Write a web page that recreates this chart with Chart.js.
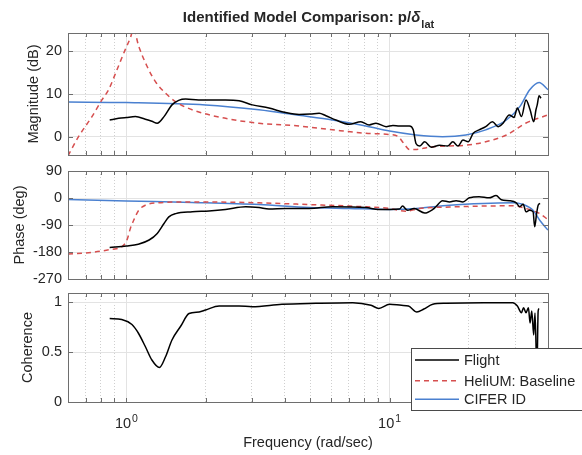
<!DOCTYPE html>
<html>
<head>
<meta charset="utf-8">
<script src="https://cdn.jsdelivr.net/npm/chart.js@4.4.0/dist/chart.umd.min.js"></script>
<style>
  body { margin: 0; background: #fff; }
  #wrap { position: relative; width: 582px; height: 455px; overflow: hidden; }
  canvas { position: absolute; left: 0; }
</style>
</head>
<body>
<div id="wrap">
  <canvas id="magChart" width="582" height="162" style="top:0px"></canvas>
  <canvas id="phaseChart" width="582" height="124" style="top:162px"></canvas>
  <canvas id="cohChart" width="582" height="169" style="top:286px"></canvas>
</div>
<script>
// axes / ticks
const freqMin = 0.6, freqMax = 40;
const freqTicks = [0.6, 0.7, 0.8, 0.9, 1, 2, 3, 4, 5, 6, 7, 8, 9, 10, 20, 30, 40];
const decadeTicks = [1, 10];
const decadeExps = ['0', '1'];
const magTicks = [0, 10, 20];
const phaseTicks = [-270, -180, -90, 0, 90];
const cohTicks = [0, 0.5, 1];

const titleMain = 'Identified Model Comparison: p/';
const titleSymbol = 'δ';
const titleSub = 'lat';
const seriesNames = ['Flight', 'HeliUM: Baseline', 'CIFER ID'];

// Flight data
const flightMagFreq = [0.864, 0.935, 1.0, 1.082, 1.18, 1.25, 1.31, 1.39, 1.49, 1.58, 1.68, 1.88, 2.1, 2.38, 2.68, 3.01, 3.48, 4.03, 4.53, 5.0, 5.4, 5.73, 6.25, 7.03, 7.78, 8.37, 8.88, 9.7, 10.3, 10.9, 11.9, 12.3, 12.6, 13.0, 13.6, 14.4, 15.5, 16.6, 17.4, 18.2, 19.0, 19.9, 20.8, 21.9, 23.2, 24.6, 25.9, 27.0, 28.5, 29.7, 30.6, 31.7, 33.0, 34.2, 35.3, 36.0, 36.4, 37.0, 37.6];
const flightMag = [3.9, 4.3, 4.5, 4.7, 4.1, 3.6, 3.15, 4.7, 7.45, 8.5, 8.8, 8.6, 8.6, 8.6, 8.4, 7.45, 6.7, 5.65, 5.2, 5.3, 5.5, 4.9, 3.9, 2.9, 3.5, 2.75, 3.15, 2.35, 2.6, 2.5, 2.5, 1.6, -1.6, -2.2, -1.2, -2.5, -2.0, -2.2, -1.2, -2.2, -0.8, -1.2, 0.8, 1.6, 2.35, 3.5, 2.35, 3.15, 5.1, 4.5, 6.7, 4.7, 8.6, 6.3, 3.5, 6.3, 7.45, 9.6, 9.0];

const flightPhaseFreq = [0.864, 1, 1.11, 1.22, 1.31, 1.39, 1.45, 1.54, 1.78, 2.06, 2.38, 2.84, 3.19, 3.48, 4.03, 4.95, 6.07, 8.13, 9.1, 10, 10.9, 11.2, 11.7, 12.4, 13.6, 14.6, 15.0, 15.9, 16.9, 17.9, 19.0, 20.1, 21.9, 23.9, 25.4, 26.6, 28.5, 30.3, 31.2, 32.2, 33.0, 34.0, 35.1, 35.6, 36.2, 36.7, 37.3];
const flightPhase = [-165, -160, -154, -140, -118, -85, -63, -52, -46, -43, -38, -29, -32, -37, -35, -35, -29, -32, -38, -38, -37, -27, -41, -35, -50, -38, -29, -9, -13, -9, -13, 0.6, 4.5, 0.6, 8, -6, -9, -16, -29, -21, -46, -41, -46, -96, -52, -24, -18];

const flightCohFreq = [0.864, 0.96, 1.05, 1.11, 1.18, 1.25, 1.335, 1.41, 1.49, 1.61, 1.73, 1.89, 2.0, 2.25, 2.68, 3.0, 3.9, 5.25, 7.25, 8.5, 9.1, 10, 11.1, 11.8, 12.7, 13.5, 14.6, 16.4, 22.8, 29.4, 30.6, 31.7, 32.3, 33.0, 33.7, 34.2, 34.7, 35.3, 35.7, 36.3, 36.7, 37.0];
const flightCoh = [0.835, 0.825, 0.775, 0.69, 0.555, 0.42, 0.345, 0.455, 0.62, 0.76, 0.885, 0.9, 0.92, 0.96, 0.96, 0.953, 0.977, 0.987, 0.993, 0.967, 0.936, 0.977, 0.967, 0.96, 0.9, 0.93, 0.977, 0.987, 0.993, 0.993, 0.96, 0.893, 0.943, 0.893, 0.943, 0.79, 0.91, 0.67, 0.89, 0.3, 0.91, 0.935];

// HeliUM baseline model
const heliMagFreq = [0.6, 0.658, 0.74, 0.807, 0.856, 0.921, 0.99, 1.036, 1.064, 1.114, 1.198, 1.289, 1.408, 1.537, 1.778, 2.38, 3.19, 4.53, 6.07, 8.13, 10.0, 10.8, 11.3, 11.9, 12.5, 14.6, 19.5, 23.2, 27.8, 33.0, 40];
const heliMag = [-4.5, 0, 4.7, 8.6, 11, 15.7, 20.4, 23.2, 25.2, 21.2, 16.5, 12.9, 10.2, 8.2, 6.3, 4.3, 3.15, 2.5, 1.6, 0.8, 0.5, 0, -1.5, -3.0, -3.0, -2.35, -2.0, -1.2, 0.4, 3.2, 5.1];

const heliPhaseFreq = [0.6, 0.74, 0.88, 0.96, 1.005, 1.036, 1.066, 1.114, 1.18, 1.33, 1.78, 3.19, 4.95, 7.03, 10, 11.5, 13.0, 16.9, 22.6, 29.4, 33, 37.2, 40];
const heliPhase = [-187, -181, -171, -163, -140, -101, -74, -41, -24, -16, -13, -16, -22, -27, -35, -44, -35, -30, -27, -26, -35, -52, -72];

// CIFER identified model
const ciferMagFreq = [0.6, 1, 2, 3.19, 4.53, 6.07, 8.13, 10, 12.6, 15.9, 19.5, 23.2, 27.8, 31.3, 34.1, 37.0, 40];
const ciferMag = [8.1, 8.0, 7.45, 6.3, 5.0, 3.9, 2.5, 1.3, 0.4, 0, 0.4, 1.6, 3.9, 7.1, 11, 12.7, 11];

const ciferPhaseFreq = [0.6, 1, 1.78, 3.19, 4.95, 7.03, 10, 12.6, 16.9, 22.6, 29.4, 32, 35.1, 37.2, 40];
const ciferPhase = [-5, -10, -15, -22, -32, -35, -38, -35, -24, -18, -16, -21, -41, -74, -107];

// styles
const family = '"Liberation Sans", Arial, Helvetica, sans-serif';
const textColor = '#262626';
const boxColor = '#6e6e6e';
const majorGrid = '#e3e3e3';
const minorGrid = '#cfcfcf';
const flightColor = '#000000';
const heliColor = '#d64f4f';
const ciferColor = '#4a80d0';
const heliDash = [5, 4];

const pts = (xs, ys) => xs.map((x, i) => ({ x, y: ys[i] }));
const isDecade = c => c.tick && decadeTicks.includes(c.tick.value);

function lineSet(label, xs, ys, color, dash) {
  return {
    label,
    data: pts(xs, ys),
    borderColor: color,
    borderWidth: 1.5,
    borderDash: dash || [],
    pointRadius: 0,
    fill: false,
    cubicInterpolationMode: 'monotone'
  };
}

function xScale(bottomAxis) {
  return {
    type: 'logarithmic',
    min: freqMin,
    max: freqMax,
    afterBuildTicks: s => { s.ticks = freqTicks.map(v => ({ value: v, major: decadeTicks.includes(v) })); },
    afterFit: s => { s.height = bottomAxis ? 53 : 0; s.paddingLeft = 0; s.paddingRight = 0; },
    ticks: { display: false, autoSkip: false },
    grid: { drawTicks: false, lineWidth: 1, color: c => isDecade(c) ? majorGrid : minorGrid },
    border: { display: false, dash: c => isDecade(c) ? [] : [1, 2] },
    title: {
      display: bottomAxis,
      text: 'Frequency (rad/sec)',
      color: textColor,
      font: { family, size: 14.5 },
      padding: { top: 0, bottom: 3 }
    }
  };
}

function yScale(min, max, tickVals, label, labelPad) {
  return {
    min,
    max,
    afterBuildTicks: s => { s.ticks = tickVals.map(v => ({ value: v })); },
    afterFit: s => { s.width = 68; s.paddingTop = 0; s.paddingBottom = 0; },
    ticks: { color: textColor, font: { family, size: 14.5 }, padding: 6, callback: v => String(v) },
    grid: { drawTicks: false, lineWidth: 1, color: majorGrid },
    border: { display: false },
    title: {
      display: true,
      text: label,
      color: textColor,
      font: { family, size: 14.5 },
      padding: { top: labelPad, bottom: 0 }
    }
  };
}

// box round each panel, with inward ticks like the original
const boxPlugin = {
  id: 'box',
  afterDraw(chart) {
    const { ctx, chartArea: a, scales: { x, y } } = chart;
    ctx.save();
    ctx.strokeStyle = boxColor;
    ctx.lineWidth = 1;
    ctx.beginPath();
    freqTicks.forEach(v => {
      const px = Math.round(x.getPixelForValue(v)) + 0.5;
      ctx.moveTo(px, a.top); ctx.lineTo(px, a.top + 4);
      ctx.moveTo(px, a.bottom); ctx.lineTo(px, a.bottom - 4);
    });
    y.ticks.forEach(t => {
      const py = Math.round(y.getPixelForValue(t.value)) + 0.5;
      ctx.moveTo(a.left, py); ctx.lineTo(a.left + 5, py);
      ctx.moveTo(a.right, py); ctx.lineTo(a.right - 5, py);
    });
    ctx.stroke();
    ctx.strokeRect(Math.round(a.left) + 0.5, Math.round(a.top) + 0.5,
      Math.round(a.right - a.left), Math.round(a.bottom - a.top));
    ctx.restore();
  }
};

const titlePlugin = {
  id: 'bodeTitle',
  afterDraw(chart) {
    const { ctx, chartArea: a } = chart;
    const mainFont = 'bold 15px ' + family;
    const symFont = 'italic bold 15px ' + family;
    const subFont = 'bold 11px ' + family;
    ctx.save();
    ctx.fillStyle = textColor;
    ctx.textBaseline = 'alphabetic';
    ctx.font = mainFont; const w1 = ctx.measureText(titleMain).width;
    ctx.font = symFont; const w2 = ctx.measureText(titleSymbol).width;
    ctx.font = subFont; const w3 = ctx.measureText(titleSub).width;
    let x0 = (a.left + a.right) / 2 - (w1 + w2 + w3) / 2;
    ctx.font = mainFont; ctx.fillText(titleMain, x0, 22);
    ctx.font = symFont; ctx.fillText(titleSymbol, x0 + w1, 22);
    ctx.font = subFont; ctx.fillText(titleSub, x0 + w1 + w2 + 1, 28);
    ctx.restore();
  }
};

const freqLabelPlugin = {
  id: 'freqLabels',
  afterDraw(chart) {
    const { ctx, scales: { x } } = chart;
    ctx.save();
    ctx.fillStyle = textColor;
    ctx.textBaseline = 'alphabetic';
    decadeTicks.forEach((v, i) => {
      ctx.font = '14.5px ' + family;
      const wb = ctx.measureText('10').width;
      ctx.font = '10.5px ' + family;
      const we = ctx.measureText(decadeExps[i]).width;
      const x0 = x.getPixelForValue(v) - (wb + we + 1) / 2;
      ctx.font = '14.5px ' + family;
      ctx.fillText('10', x0, 142.3);
      ctx.font = '10.5px ' + family;
      ctx.fillText(decadeExps[i], x0 + wb + 1, 135.7);
    });
    ctx.restore();
  }
};

const legendPlugin = {
  id: 'boxLegend',
  afterDraw(chart) {
    const { ctx } = chart;
    const rows = [74, 94.7, 113.3];
    ctx.save();
    ctx.fillStyle = '#ffffff';
    ctx.fillRect(411, 62, 180, 63);
    ctx.strokeStyle = '#4a4a4a';
    ctx.lineWidth = 1;
    ctx.strokeRect(411.5, 62.5, 180, 62);
    chart.data.datasets.forEach((ds, i) => {
      ctx.beginPath();
      ctx.strokeStyle = ds.borderColor;
      ctx.lineWidth = ds.borderWidth;
      ctx.setLineDash(ds.borderDash || []);
      ctx.moveTo(415, rows[i]);
      ctx.lineTo(459, rows[i]);
      ctx.stroke();
      ctx.setLineDash([]);
      ctx.fillStyle = textColor;
      ctx.font = '14.5px ' + family;
      ctx.textBaseline = 'middle';
      ctx.fillText(ds.label, 464, rows[i] + 1);
    });
    ctx.restore();
  }
};

function baseOptions(padTop, padBottom, xs, ys) {
  return {
    responsive: false,
    animation: false,
    devicePixelRatio: 1,
    layout: { padding: { top: padTop, bottom: padBottom, left: 0, right: 34 } },
    plugins: { legend: { display: false }, tooltip: { enabled: false } },
    scales: { x: xs, y: ys }
  };
}

new Chart(document.getElementById('magChart'), {
  type: 'line',
  data: {
    datasets: [
      lineSet(seriesNames[0], flightMagFreq, flightMag, flightColor),
      lineSet(seriesNames[1], heliMagFreq, heliMag, heliColor, heliDash),
      lineSet(seriesNames[2], ciferMagFreq, ciferMag, ciferColor)
    ]
  },
  options: baseOptions(33, 7, xScale(false), yScale(-4.3, 24.3, magTicks, 'Magnitude (dB)', 25)),
  plugins: [boxPlugin, titlePlugin]
});

new Chart(document.getElementById('phaseChart'), {
  type: 'line',
  data: {
    datasets: [
      lineSet(seriesNames[0], flightPhaseFreq, flightPhase, flightColor),
      lineSet(seriesNames[1], heliPhaseFreq, heliPhase, heliColor, heliDash),
      lineSet(seriesNames[2], ciferPhaseFreq, ciferPhase, ciferColor)
    ]
  },
  options: baseOptions(9, 7, xScale(false), yScale(-270, 90, phaseTicks, 'Phase (deg)', 11)),
  plugins: [boxPlugin]
});

new Chart(document.getElementById('cohChart'), {
  type: 'line',
  data: {
    datasets: [
      lineSet(seriesNames[0], flightCohFreq, flightCoh, flightColor),
      lineSet(seriesNames[1], [], [], heliColor, heliDash),
      lineSet(seriesNames[2], [], [], ciferColor)
    ]
  },
  options: baseOptions(7, 0, xScale(true), yScale(0, 1.09, cohTicks, 'Coherence', 19)),
  plugins: [boxPlugin, freqLabelPlugin, legendPlugin]
});
</script>
</body>
</html>
